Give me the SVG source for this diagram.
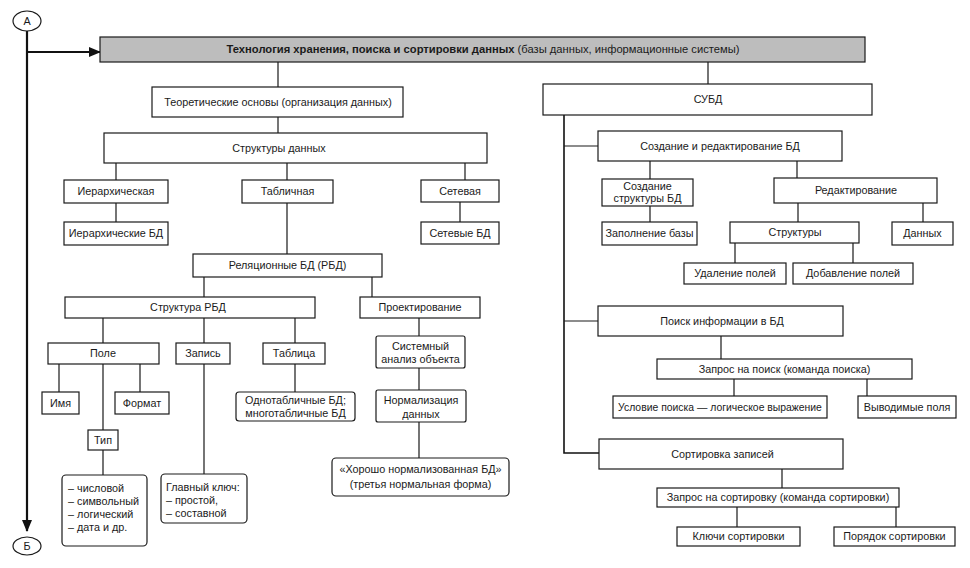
<svg xmlns="http://www.w3.org/2000/svg" width="970" height="568" viewBox="0 0 970 568">
<defs>
<marker id="arr" markerWidth="12" markerHeight="10" refX="11" refY="5" orient="auto" markerUnits="userSpaceOnUse">
<path d="M0,0 L12,5 L0,10 Z" fill="#111"/>
</marker>
</defs>
<style>
.b{fill:#fff;stroke:#1a1a1a;stroke-width:1.2}
.h{fill:#bdbdbd;stroke:#1a1a1a;stroke-width:1.2}
.c{fill:none;stroke:#1a1a1a;stroke-width:1.2}
.m{fill:none;stroke:#111;stroke-width:2.2}
text{font-family:"Liberation Sans",Arial,sans-serif;font-size:10.8px;fill:#1a1a1a}
.t{text-anchor:middle}
.bold{font-weight:bold}
.hd{font-size:11.2px}
.sm{font-size:10.4px}
</style>
<rect width="970" height="568" fill="#fff"/>
<g id="connectors">
<path class="m" d="M27,31 V531" marker-end="url(#arr)"/>
<path class="m" d="M27,52 H100" marker-end="url(#arr)"/>
<path class="c" d="M278,62 V87 M708,62 V84"/>
<path class="c" d="M278,117 V133"/>
<path class="c" d="M116,163 V180 M116,203 V222 M287,163 V180 M287,203 V254 M465,163 V180 M460,202 V222"/>
<path class="c" d="M204,277 V297 M372,277 V297"/>
<path class="c" d="M103,318 V343 M204,318 V343 M295,318 V343"/>
<path class="c" d="M59,364 V392 M140,364 V392 M103,364 V430 M103,450 V475 M204,364 V474 M295,364 V392"/>
<path class="c" d="M419,318 V336 M419,368 V390 M419,422 V458"/>
<path class="m" d="M564,115 V453 H599" style="stroke-width:1.6"/>
<path class="c" d="M564,146 H598 M564,321 H598"/>
<path class="c" d="M650,161 V179 M650,206 V222 M797,161 V178 M798,203 V222 M923,203 V222 M735,243 V263 M853,243 V263"/>
<path class="c" d="M721,336 V359 M734,379 V396 M867,379 V396"/>
<path class="c" d="M782,469 V488 M737,507 V527 M896,507 V527"/>
</g>
<g id="circleA"><ellipse cx="27" cy="21" rx="14" ry="10" class="b"/><text class="t" x="27" y="25">А</text></g>
<g id="circleB"><ellipse cx="27" cy="546" rx="14" ry="9" class="b"/><text class="t" x="27" y="550">Б</text></g>
<g id="header"><rect class="h" x="100" y="37" width="765" height="25"/><text class="t hd" x="483" y="53"><tspan class="bold">Технология хранения, поиска и сортировки данных</tspan> (базы данных, информационные системы)</text></g>
<g id="teor"><rect class="b" x="152" y="87" width="251" height="30"/><text class="t" x="278" y="106">Теоретические основы (организация данных)</text></g>
<g id="subd"><rect class="b" x="543" y="84" width="329" height="31"/><text class="t" x="708" y="103">СУБД</text></g>
<g id="struct"><rect class="b" x="104" y="133" width="383" height="30"/><text class="t" x="279" y="152">Структуры данных</text></g>
<g id="ier"><rect class="b" x="64" y="180" width="104" height="23"/><text class="t" x="116" y="195">Иерархическая</text></g>
<g id="ierbd"><rect class="b" x="64" y="222" width="104" height="23"/><text class="t" x="116" y="237">Иерархические БД</text></g>
<g id="tabl"><rect class="b" x="242" y="180" width="91" height="23"/><text class="t" x="287.5" y="195">Табличная</text></g>
<g id="set"><rect class="b" x="421" y="180" width="78" height="22"/><text class="t" x="460" y="195">Сетевая</text></g>
<g id="setbd"><rect class="b" x="421" y="222" width="78" height="22"/><text class="t" x="460" y="237">Сетевые БД</text></g>
<g id="rbd"><rect class="b" x="193" y="254" width="189" height="23"/><text class="t" x="287.5" y="269">Реляционные БД (РБД)</text></g>
<g id="strrbd"><rect class="b" x="65" y="297" width="250" height="21"/><text class="t" x="188" y="311">Структура РБД</text></g>
<g id="proekt"><rect class="b" x="360" y="297" width="120" height="21"/><text class="t" x="420" y="311">Проектирование</text></g>
<g id="pole"><rect class="b" x="48" y="343" width="111" height="21"/><text class="t" x="103" y="357">Поле</text></g>
<g id="zap"><rect class="b" x="176" y="343" width="54" height="21"/><text class="t" x="203" y="357">Запись</text></g>
<g id="tab"><rect class="b" x="263" y="343" width="62" height="21"/><text class="t" x="294" y="357">Таблица</text></g>
<g id="imya"><rect class="b" x="42" y="392" width="37" height="22"/><text class="t" x="60.5" y="407">Имя</text></g>
<g id="format"><rect class="b" x="115" y="392" width="54" height="22"/><text class="t" x="142" y="407">Формат</text></g>
<g id="tip"><rect class="b" x="88" y="430" width="30" height="20"/><text class="t" x="103" y="444">Тип</text></g>
<g id="types"><rect class="b" x="62" y="475" width="85" height="71" rx="4"/>
<text x="68" y="492">– числовой</text><text x="68" y="505">– символьный</text><text x="68" y="518">– логический</text><text x="68" y="531">– дата и др.</text></g>
<g id="key"><rect class="b" x="161" y="474" width="86" height="49" rx="4"/>
<text x="166" y="491">Главный ключ:</text><text x="166" y="504">– простой,</text><text x="166" y="517">– составной</text></g>
<g id="odnotab"><rect class="b" x="236" y="392" width="119" height="29" rx="3"/><text class="t" x="295.5" y="404">Однотабличные БД;</text><text class="t" x="295.5" y="417">многотабличные БД</text></g>
<g id="sist"><rect class="b" x="376" y="336" width="89" height="32" rx="2"/><text class="t" x="420.5" y="350">Системный</text><text class="t" x="420.5" y="363">анализ объекта</text></g>
<g id="norm"><rect class="b" x="376" y="390" width="90" height="32" rx="2"/><text class="t" x="421" y="404">Нормализация</text><text class="t" x="421" y="418">данных</text></g>
<g id="good"><rect class="b" x="332" y="458" width="177" height="38" rx="4"/><text class="t" x="420.5" y="473">«Хорошо нормализованная БД»</text><text class="t" x="420.5" y="488">(третья нормальная форма)</text></g>
<g id="sozdred"><rect class="b" x="598" y="131" width="244" height="30"/><text class="t" x="720" y="150">Создание и редактирование БД</text></g>
<g id="sozdstr"><rect class="b" x="602" y="179" width="91" height="27"/><text class="t" x="647.5" y="190">Создание</text><text class="t" x="647.5" y="202">структуры БД</text></g>
<g id="zapoln"><rect class="b" x="602" y="222" width="95" height="23"/><text class="t" x="649.5" y="237">Заполнение базы</text></g>
<g id="red"><rect class="b" x="774" y="178" width="163" height="25"/><text class="t" x="856" y="194">Редактирование</text></g>
<g id="struktury"><rect class="b" x="730" y="222" width="129" height="21"/><text class="t" x="795" y="236">Структуры</text></g>
<g id="dannyh"><rect class="b" x="892" y="222" width="61" height="23"/><text class="t" x="922.5" y="237">Данных</text></g>
<g id="udal"><rect class="b" x="684" y="263" width="102" height="21"/><text class="t" x="735" y="277">Удаление полей</text></g>
<g id="dob"><rect class="b" x="793" y="263" width="120" height="21"/><text class="t" x="853" y="277">Добавление полей</text></g>
<g id="poisk"><rect class="b" x="598" y="306" width="245" height="30"/><text class="t" x="722" y="325">Поиск информации в БД</text></g>
<g id="zappoisk"><rect class="b" x="657" y="359" width="255" height="20"/><text class="t" x="784.5" y="373">Запрос на поиск (команда поиска)</text></g>
<g id="uslov"><rect class="b" x="613" y="396" width="214" height="22"/><text class="t sm" x="720" y="411">Условие поиска — логическое выражение</text></g>
<g id="vyvod"><rect class="b" x="858" y="396" width="98" height="22"/><text class="t" x="907" y="411">Выводимые поля</text></g>
<g id="sort"><rect class="b" x="599" y="439" width="244" height="30"/><text class="t" x="722.5" y="458">Сортировка записей</text></g>
<g id="zapsort"><rect class="b" x="657" y="488" width="242" height="19"/><text class="t" x="778" y="501">Запрос на сортировку (команда сортировки)</text></g>
<g id="klyuchi"><rect class="b" x="677" y="527" width="123" height="19"/><text class="t" x="738.5" y="540">Ключи сортировки</text></g>
<g id="poryadok"><rect class="b" x="834" y="527" width="121" height="19"/><text class="t" x="894.5" y="540">Порядок сортировки</text></g>
</svg>
